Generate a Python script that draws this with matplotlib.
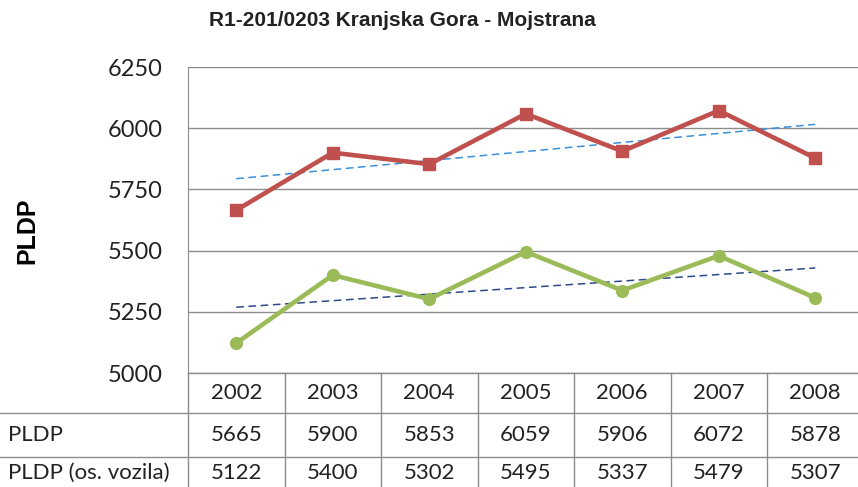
import matplotlib.pyplot as plt
import numpy as np

years = ['2002', '2003', '2004', '2005', '2006', '2007', '2008']
pldp = [5665, 5900, 5853, 6059, 5906, 6072, 5878]
pldp_os = [5122, 5400, 5302, 5495, 5337, 5479, 5307]
row_labels = ['PLDP', 'PLDP (os. vozila)']
yticks = [5000, 5250, 5500, 5750, 6000, 6250]

W, H = 858, 487
fig = plt.figure(figsize=(W / 100, H / 100), dpi=100)

# plot area in pixels
left, top, bottom = 188, 67, 373
colw = 96.5
right = left + colw * len(years)
ax = fig.add_axes([left / W, 1 - bottom / H, (right - left) / W, (bottom - top) / H])
ax.set_xlim(-0.5, len(years) - 0.5)
ax.set_ylim(5000, 6250)

grid_c = '#8c8c8c'
for v in yticks:
    ax.axhline(v, color=grid_c, lw=1, zorder=0)
for s in ['top', 'right', 'bottom']:
    ax.spines[s].set_visible(False)
ax.spines['left'].set_color(grid_c)
ax.set_yticks(yticks)
ax.set_yticklabels([str(v) for v in yticks], fontsize=17, family='Lato', color='#222222')
ax.tick_params(axis='y', length=0, pad=18)
ax.set_xticks([])

x = np.arange(len(years))
ax.plot(x, pldp, color='#c0504d', lw=3.3, marker='s', ms=8.5, zorder=3)
ax.plot(x, pldp_os, color='#9bbb59', lw=3.3, marker='o', ms=8.5, zorder=3)

# linear trend lines
for ser, c in [(pldp, '#3b8fd6'), (pldp_os, '#2c4a8a')]:
    k, n = np.polyfit(x, ser, 1)
    ax.plot(x, k * x + n, color=c, lw=1.1, ls=(0, (5, 3)), zorder=2)

fig.text(27 / W, 1 - 231 / H, 'PLDP', rotation=90, ha='center', va='center',
         fontsize=18, fontweight='bold', family='Liberation Sans')

fig.text(402 / W, 1 - 20 / H, 'R1-201/0203 Kranjska Gora - Mojstrana', ha='center', va='center',
         fontsize=15, fontweight='bold', family='Liberation Sans', color='#222222')

# data table
lf = fig.transFigure
for yy in [413, 457]:
    fig.add_artist(plt.Line2D([0, 1], [1 - yy / H, 1 - yy / H], color=grid_c, lw=1, transform=lf))
for i in range(len(years) + 1):
    xx = left + i * colw
    fig.add_artist(plt.Line2D([xx / W, xx / W], [1 - bottom / H, 0], color=grid_c, lw=1, transform=lf))
fig.add_artist(plt.Line2D([left / W, 1], [1 - bottom / H, 1 - bottom / H], color=grid_c, lw=1, transform=lf))

tk = dict(fontsize=16, family='Lato', color='#222222', va='center')
for i, yr in enumerate(years):
    cx = (left + (i + 0.5) * colw) / W
    fig.text(cx, 1 - 393 / H, yr, ha='center', **tk)
    fig.text(cx, 1 - 435 / H, str(pldp[i]), ha='center', **tk)
    fig.text(cx, 1 - 473 / H, str(pldp_os[i]), ha='center', **tk)
fig.text(8 / W, 1 - 435 / H, row_labels[0], ha='left', **tk)
fig.text(8 / W, 1 - 473 / H, row_labels[1], ha='left', **tk)

fig.savefig('out.png', dpi=100)
